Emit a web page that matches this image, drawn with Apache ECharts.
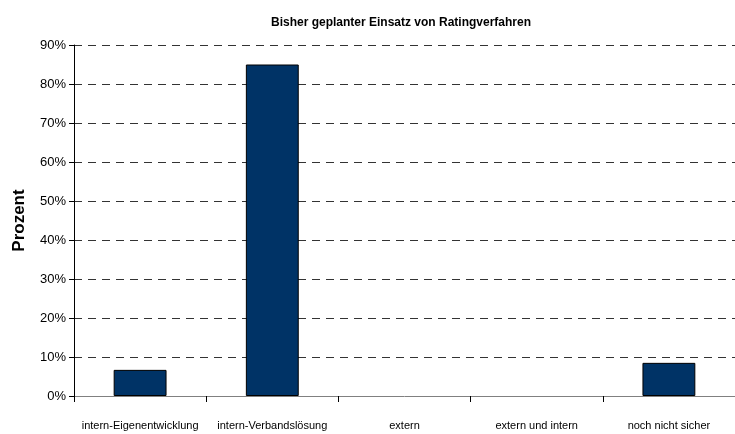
<!DOCTYPE html>
<html>
<head>
<meta charset="utf-8">
<script src="https://cdn.jsdelivr.net/npm/echarts@6/dist/echarts.min.js"></script>
<style>
  html, body { margin: 0; padding: 0; background: #fff; }
  #chart { width: 735px; height: 434px; }
</style>
</head>
<body>
<div id="chart"></div>
<script>
// Kategorien und Werte (Prozent)
const categories = ['intern-Eigenentwicklung', 'intern-Verbandslösung', 'extern', 'extern und intern', 'noch nicht sicher']
const values = [6.7, 85, 0, 0, 8.5]
const yTicks = [0, 10, 20, 30, 40, 50, 60, 70, 80, 90]

const font = '"Liberation Sans Narrow", "Liberation Sans", Arial, sans-serif'

// Nullwerte ohne Rahmen, damit keine Linie am Boden entsteht
const barData = values.map(v => (v === 0 ? { value: v, itemStyle: { borderWidth: 0 } } : v))

const myChart = echarts.init(document.getElementById('chart'))
myChart.setOption({
    animation: false,
    title: {
        text: 'Bisher geplanter Einsatz von Ratingverfahren',
        left: 396,
        top: 12,
        textAlign: 'center',
        textStyle: { fontFamily: font, fontSize: 12, fontWeight: 'bold', color: '#000' }
    },
    grid: { left: 74, top: 45, width: 667, height: 351 },
    xAxis: {
        type: 'category',
        data: categories,
        axisLine: { lineStyle: { color: '#808080', width: 1 } },
        axisTick: { show: true, length: 6, alignWithLabel: false, lineStyle: { color: '#000' } },
        axisLabel: { fontFamily: font, fontSize: 11, color: '#000', margin: 24, interval: 0 }
    },
    yAxis: {
        type: 'value',
        min: yTicks[0],
        max: yTicks[yTicks.length - 1],
        interval: 10,
        name: 'Prozent',
        nameLocation: 'middle',
        nameGap: 46,
        nameTextStyle: { fontFamily: font, fontSize: 17, fontWeight: 'bold', color: '#000' },
        axisLine: { show: true, lineStyle: { color: '#000', width: 1 } },
        axisTick: { show: true, length: 5, lineStyle: { color: '#000' } },
        axisLabel: { fontFamily: font, fontSize: 13, color: '#000', margin: 8, formatter: '{value}%' },
        splitLine: { show: true, lineStyle: { color: '#333', type: [8, 6], width: 1 } }
    },
    series: [{
        type: 'bar',
        data: barData,
        barWidth: '40%',
        itemStyle: { color: '#003366', borderColor: '#000', borderWidth: 1 }
    }]
})
</script>
</body>
</html>
